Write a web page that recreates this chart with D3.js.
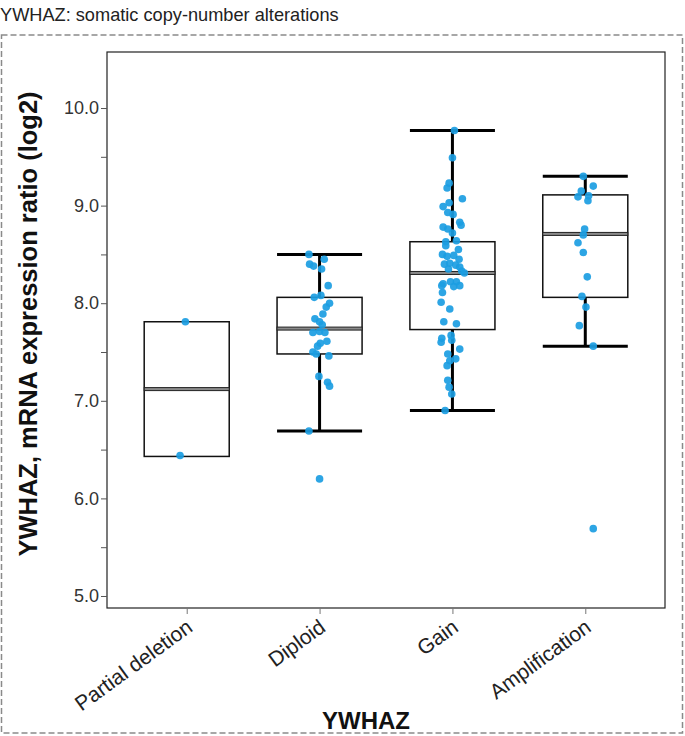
<!DOCTYPE html>
<html>
<head>
<meta charset="utf-8">
<script src="https://cdn.jsdelivr.net/npm/d3@7"></script>
<style>
  body { margin: 0; background: #fff; }
  svg { font-family: "Liberation Sans", Arial, sans-serif; }
</style>
</head>
<body>
<div id="chart"></div>
<script>
// categories and box statistics
const categories = ["Partial deletion", "Diploid", "Gain", "Amplification"];
const q1      = [6.43, 7.48, 7.73, 8.06];
const median  = [7.12, 7.74, 8.31, 8.71];
const q3      = [7.81, 8.06, 8.63, 9.11];
const whiskLo = [null, 6.69, 6.90, 7.56];
const whiskHi = [null, 8.50, 9.77, 9.30];
const yTicks  = [5, 6, 7, 8, 9, 10];

// samples: [value, jitter (in category steps)]
const partialDeletion = [[7.81, -0.01], [6.44, -0.05]];
const diploid = [
  [8.50, -0.08], [8.40, -0.075], [8.38, -0.045], [8.45, 0.035], [8.35, 0.015],
  [8.18, 0.065], [8.06, -0.04], [8.08, 0.01], [8.00, 0.075], [7.96, 0.05],
  [7.89, 0.025], [7.84, -0.035], [7.81, 0], [7.78, 0.02], [7.70, -0.05],
  [7.71, 0], [7.70, 0.04], [7.61, 0.055], [7.59, 0.005], [7.56, -0.015],
  [7.50, -0.05], [7.48, -0.025], [7.46, 0.07], [7.25, -0.005], [7.19, 0.06],
  [7.15, 0.075], [6.69, -0.08], [6.20, 0]
];
const gain = [
  [9.77, 0.015], [9.49, 0], [9.23, -0.025], [9.18, -0.04], [9.07, 0.075],
  [9.03, -0.025], [8.99, -0.07], [8.93, -0.035], [8.91, 0.005], [8.78, -0.07],
  [8.76, -0.035], [8.83, 0.055], [8.80, 0.065], [8.72, 0], [8.63, -0.05],
  [8.64, 0.03], [8.59, -0.05], [8.55, 0.045], [8.50, -0.075], [8.48, -0.04],
  [8.49, 0.01], [8.45, 0.05], [8.40, -0.06], [8.41, -0.02], [8.39, 0.025],
  [8.37, 0.055], [8.35, -0.03], [8.33, 0.07], [8.31, 0.09], [8.22, -0.015],
  [8.20, -0.07], [8.22, 0.03], [8.18, -0.08], [8.17, 0.01], [8.18, 0.055],
  [8.11, -0.075], [8.01, -0.085], [7.94, -0.02], [7.81, -0.065], [7.79, 0.03],
  [7.67, -0.01], [7.64, -0.08], [7.62, -0.005], [7.60, -0.085], [7.53, 0.055],
  [7.48, -0.035], [7.43, 0.025], [7.41, -0.02], [7.36, -0.04], [7.21, -0.035],
  [7.14, -0.025], [7.07, -0.005], [6.90, -0.055]
];
const amplification = [
  [9.30, -0.015], [9.20, 0.06], [9.15, -0.03], [9.09, -0.055], [9.10, 0.025],
  [9.05, 0.02], [8.76, -0.005], [8.70, -0.015], [8.62, -0.055], [8.52, -0.015],
  [8.27, 0.015], [8.07, -0.025], [7.96, 0.005], [7.77, -0.045], [7.56, 0.06],
  [5.69, 0.06]
];
const samples = [partialDeletion, diploid, gain, amplification];

const width = 685, height = 736;
const plot = {left: 107, right: 665, top: 52, bottom: 608};

const svg = d3.select("#chart").append("svg")
    .attr("width", width)
    .attr("height", height);

const x = d3.scalePoint()
    .domain(categories)
    .range([plot.left, plot.right])
    .padding(0.6);

const y = d3.scaleLinear()
    .domain([4.877, 10.574])
    .range([plot.bottom, plot.top]);

const boxW = x.step() * 0.64;

// title
svg.append("text")
    .attr("x", 0)
    .attr("y", 21)
    .attr("font-size", 18.2)
    .attr("fill", "#222")
    .text("YWHAZ: somatic copy-number alterations");

// dashed outer border
svg.append("rect")
    .attr("x", 1.5).attr("y", 35)
    .attr("width", 681).attr("height", 698)
    .attr("fill", "none")
    .attr("stroke", "#8a8a8a")
    .attr("stroke-width", 1.5)
    .attr("stroke-dasharray", "6,3");

// plot frame
svg.append("rect")
    .attr("x", plot.left).attr("y", plot.top)
    .attr("width", plot.right - plot.left)
    .attr("height", plot.bottom - plot.top)
    .attr("fill", "none")
    .attr("stroke", "#222")
    .attr("stroke-width", 1.2);

// y axis
const yAxis = d3.axisLeft(y)
    .tickValues(d3.range(5, 10.01, 0.5))
    .tickSize(6)
    .tickFormat(d => yTicks.includes(d) ? d3.format(".1f")(d) : "");

svg.append("g")
    .attr("transform", `translate(${plot.left},0)`)
    .call(yAxis)
    .call(g => g.select(".domain").remove())
    .call(g => g.selectAll(".tick line").attr("stroke", "#555"))
    .call(g => g.selectAll(".tick text")
        .attr("font-size", 18)
        .attr("font-family", "Liberation Sans, Arial, sans-serif")
        .attr("fill", "#333")
        .attr("x", -8));

// x axis
const xAxis = d3.axisBottom(x).tickSize(6).tickSizeOuter(0);
svg.append("g")
    .attr("transform", `translate(0,${plot.bottom})`)
    .call(xAxis)
    .call(g => g.select(".domain").remove())
    .call(g => g.selectAll(".tick line").attr("stroke", "#777"))
    .call(g => g.selectAll(".tick text")
        .attr("font-size", 21)
        .attr("font-family", "Liberation Sans, Arial, sans-serif")
        .attr("fill", "#222")
        .attr("text-anchor", "end")
        .attr("transform", "translate(-2,10) rotate(-36)")
        .attr("dy", "0.71em")
        .attr("y", 0));

// axis titles
svg.append("text")
    .attr("transform", `translate(37,324) rotate(-90)`)
    .attr("text-anchor", "middle")
    .attr("font-size", 25.5)
    .attr("font-weight", "bold")
    .attr("fill", "#111")
    .text("YWHAZ, mRNA expression ratio (log2)");

svg.append("text")
    .attr("x", 366)
    .attr("y", 729)
    .attr("text-anchor", "middle")
    .attr("font-size", 24)
    .attr("font-weight", "bold")
    .attr("fill", "#111")
    .text("YWHAZ");

// boxes
const boxes = svg.append("g")
    .selectAll("g")
    .data(categories)
    .join("g")
    .attr("transform", d => `translate(${x(d)},0)`);

boxes.each(function(c, i) {
    const g = d3.select(this);
    if (whiskLo[i] != null) {
        g.append("line")
            .attr("y1", y(whiskLo[i])).attr("y2", y(q1[i]))
            .attr("stroke", "#000").attr("stroke-width", 3);
        g.append("line")
            .attr("y1", y(q3[i])).attr("y2", y(whiskHi[i]))
            .attr("stroke", "#000").attr("stroke-width", 3);
        [whiskLo[i], whiskHi[i]].forEach(v => {
            g.append("line")
                .attr("x1", -boxW / 2).attr("x2", boxW / 2)
                .attr("y1", y(v)).attr("y2", y(v))
                .attr("stroke", "#000").attr("stroke-width", 3);
        });
    }
    g.append("rect")
        .attr("x", -boxW / 2)
        .attr("y", y(q3[i]))
        .attr("width", boxW)
        .attr("height", y(q1[i]) - y(q3[i]))
        .attr("fill", "none")
        .attr("stroke", "#111")
        .attr("stroke-width", 1.5);
    g.append("rect")
        .attr("x", -boxW / 2)
        .attr("y", y(median[i]) - 1.5)
        .attr("width", boxW)
        .attr("height", 3)
        .attr("fill", "#8a8a8a")
        .attr("stroke", "#222")
        .attr("stroke-width", 1);
});

// points
boxes.each(function(c, i) {
    d3.select(this).selectAll("circle")
        .data(samples[i])
        .join("circle")
        .attr("cx", d => d[1] * x.step())
        .attr("cy", d => y(d[0]))
        .attr("r", 3.8)
        .attr("fill", "#1b9de2")
        .attr("fill-opacity", 0.92);
});
</script>
</body>
</html>
